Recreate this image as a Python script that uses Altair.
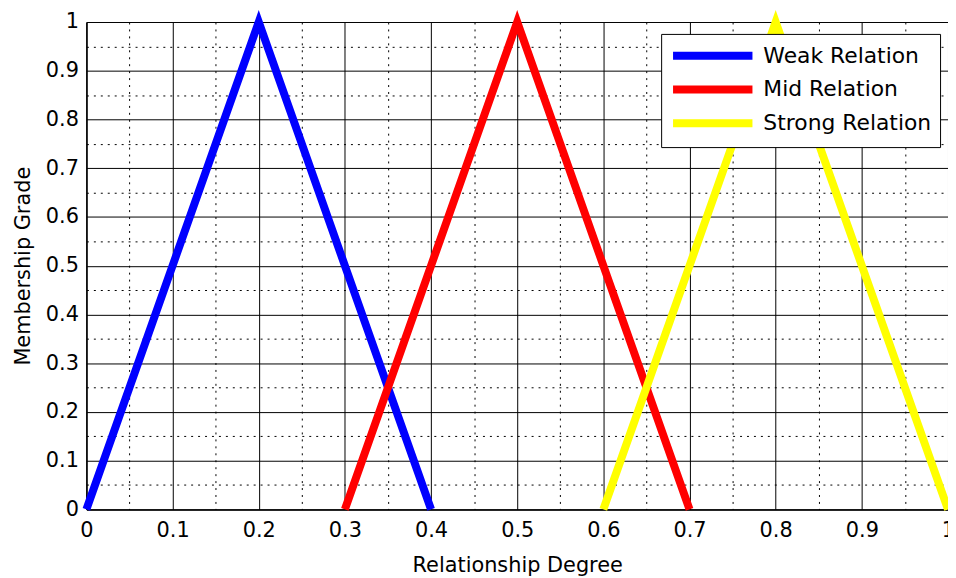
import altair as alt
import pandas as pd

series = ["Weak Relation", "Mid Relation", "Strong Relation"]
colors = ["#0000FF", "#FF0000", "#FFFF00"]
x_weak = [0.0, 0.2, 0.4]
x_mid = [0.3, 0.5, 0.7]
x_strong = [0.6, 0.8, 1.0]
y_tri = [0.0, 1.0, 0.0]
grid_vals = [round(i * 0.05, 2) for i in range(21)]

rows = []
for name, xs in zip(series, [x_weak, x_mid, x_strong]):
    for i, (xv, yv) in enumerate(zip(xs, y_tri)):
        rows.append({"series": name, "x": xv, "y": yv, "order": i})
df = pd.DataFrame(rows)

FONT = "DejaVu Sans"
dash_cond = {"condition": {"test": "round(datum.value*100) % 10 != 0", "value": [2, 5]}, "value": []}
lab_expr = "round(datum.value*100) % 10 != 0 ? '' : format(datum.value, '.1~f')"

x_axis = alt.Axis(values=grid_vals, grid=True, gridColor="black", gridOpacity=1, gridWidth=1,
                  gridDash=dash_cond, ticks=False, domainColor="black", domainWidth=1.5,
                  labelExpr=lab_expr,
                  labelFont=FONT, labelFontSize=21, labelColor="black", labelPadding=10,
                  labelFlush=False, labelOverlap=False,
                  title="Relationship Degree", titleFont=FONT, titleFontSize=21,
                  titleFontWeight="normal", titleColor="black", titlePadding=15)
y_axis = alt.Axis(values=grid_vals, grid=True, gridColor="black", gridOpacity=1, gridWidth=1,
                  gridDash=dash_cond, ticks=False, domainColor="black", domainWidth=1.5,
                  labelExpr=lab_expr,
                  labelFont=FONT, labelFontSize=21, labelColor="black", labelPadding=8,
                  labelFlush=False, labelOverlap=False,
                  title="Membership Grade", titleFont=FONT, titleFontSize=21,
                  titleFontWeight="normal", titleColor="black", titlePadding=12)

chart = alt.Chart(df).mark_line(strokeWidth=8, clip=False).encode(
    x=alt.X("x:Q", scale=alt.Scale(domain=[0, 1], nice=False), axis=x_axis),
    y=alt.Y("y:Q", scale=alt.Scale(domain=[0, 1], nice=False), axis=y_axis),
    color=alt.Color("series:N", sort=series,
                    scale=alt.Scale(domain=series, range=colors),
                    legend=alt.Legend(title=None, orient="none", legendX=579, legendY=12,
                                      symbolType="M-1,0H7", symbolStrokeWidth=8, symbolSize=400,
                                      labelFont=FONT, labelFontSize=22, labelColor="black",
                                      labelLimit=400,
                                      fillColor="white", strokeColor="black", padding=8,
                                      rowPadding=2, labelOffset=67)),
    order="order:Q",
).properties(width=868, height=491, padding={"left": 79, "top": 12, "right": 0, "bottom": 66},
             autosize=alt.AutoSizeParams(type="none")
).configure_view(stroke="black", strokeWidth=1.5).configure(background="white")

chart.save("out.html", embed_options={"renderer": "svg", "actions": False})
